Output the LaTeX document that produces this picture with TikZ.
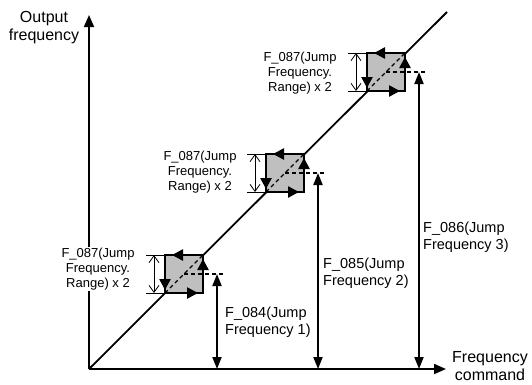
\documentclass[tikz,border=0pt]{standalone}
\usepackage{fontspec}
\setmainfont{Liberation Sans}
\usetikzlibrary{arrows.meta,calc}
\begin{document}
\begin{tikzpicture}[x=1pt,y=-1pt,
  axisline/.style={line width=1.8pt,-{Triangle[length=12pt,width=10pt]}},
  diagline/.style={line width=1.8pt},
  jbox/.style={draw,line width=2.5pt,fill=black!25,minimum size=38pt,inner sep=0pt,outer sep=0pt},
  dashline/.style={line width=1.1pt,dash pattern=on 4pt off 3pt},
  edgearrow/.style={line width=2.5pt,-{Triangle[length=11pt,width=11pt]}},
  jumparrow/.style={line width=1.8pt,{Triangle[length=12pt,width=9pt]}-{Triangle[length=12pt,width=9pt]}},
  rangearrow/.style={line width=0.8pt,{Straight Barb[length=7pt,width=10pt]}-{Straight Barb[length=7pt,width=10pt]}},
  tick/.style={line width=0.8pt},
  axislabel/.style={align=center,inner sep=0pt,font=\fontsize{16}{18}\selectfont},
  jumplabel/.style={anchor=west,align=left,inner sep=0pt,font=\fontsize{14.5}{17.5}\selectfont},
  rangelabel/.style={align=center,fill=white,inner sep=1pt,font=\fontsize{13}{15}\selectfont}
]
\useasboundingbox (0,0) rectangle (532,384);

% axes
\coordinate (O) at (89,369);
\coordinate (ytop) at (89,15);
\coordinate (xend) at (446,369);
\coordinate (dtop) at (447,12);
\draw[axisline] (O) -- (ytop);
\draw[axisline] (O) -- (xend);
\draw[diagline] (O) -- (dtop);

\node[axislabel] (ylab) at (44,28) {Output\\frequency};
\node[axislabel] (xlab) at (490,366) {Frequency\\command};

% jump boxes
\foreach \i/\bx in {1/165,2/266,3/367}{
  \pgfmathsetmacro{\by}{369-(\bx-89)}
  \pgfmathsetmacro{\cx}{\bx+19}
  \pgfmathsetmacro{\cy}{\by-19}
  \node[jbox] (b\i) at (\cx,\cy) {};
  \draw[dashline] (b\i.south west) -- (b\i.north east);
  \draw[edgearrow] (b\i.north east) -- ($(b\i.north west)+(7,0)$);
  \draw[edgearrow] (b\i.north west) -- ($(b\i.south west)+(0,-3)$);
  \draw[edgearrow] (b\i.south west) -- ($(b\i.south east)+(-5,0)$);
  \draw[edgearrow] (b\i.south east) -- ($(b\i.north east)+(0,4)$);
  \coordinate (t\i) at (\bx+52,\cy);
  \coordinate (d\i) at (\bx+58,\cy);
  \coordinate (a\i) at (\bx+52,369);
  \draw[dashline] (b\i.center) -- (d\i);
  \draw[jumparrow] (t\i) -- (a\i);
  \coordinate (rt\i) at (\bx-11,\by-38);
  \coordinate (rb\i) at (\bx-11,\by);
  \coordinate (kt\i) at (\bx-19,\by-38);
  \coordinate (kb\i) at (\bx-19,\by);
  \draw[tick] (kt\i) -- (b\i.north west);
  \draw[tick] (kb\i) -- (b\i.south west);
  \draw[rangearrow] (rt\i) -- (rb\i);
}

% range labels
\node[rangelabel] (r1) at (98,269) {F\_087(Jump\\Frequency.\\Range) x 2};
\node[rangelabel] (r2) at (200,172.5) {F\_087(Jump\\Frequency.\\Range) x 2};
\node[rangelabel] (r3) at (300,73) {F\_087(Jump\\Frequency.\\Range) x 2};

% jump labels
\node[jumplabel] (j1) at (225,322) {F\_084(Jump\\Frequency 1)};
\node[jumplabel] (j2) at (323,273) {F\_085(Jump\\Frequency 2)};
\node[jumplabel] (j3) at (423,237) {F\_086(Jump\\Frequency 3)};
\end{tikzpicture}
\end{document}
